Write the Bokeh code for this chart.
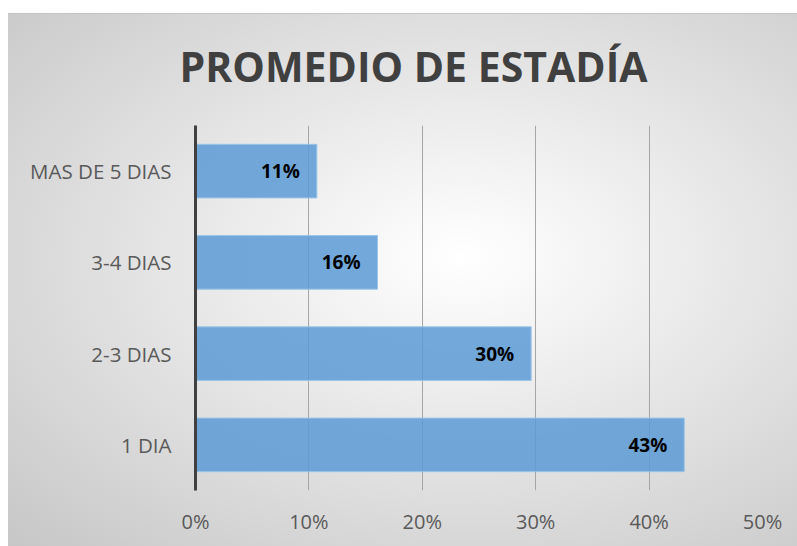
from bokeh.plotting import figure
from bokeh.models import FactorRange, NumeralTickFormatter, FixedTicker, ColumnDataSource
from bokeh.core.properties import value
from bokeh.embed import file_html
from bokeh.resources import INLINE

categories = ["1 DIA", "2-3 DIAS", "3-4 DIAS", "MAS DE 5 DIAS"]
shares = [0.431, 0.296, 0.1605, 0.107]
x_ticks = [0.0, 0.1, 0.2, 0.3, 0.4, 0.5]
title_text = "PROMEDIO DE ESTADÍA"

labels = [f"{round(v * 100):.0f}%" for v in shares]
src = ColumnDataSource(dict(cat=categories, val=shares, lab=labels))

p = figure(
    width=797, height=546,
    y_range=FactorRange(factors=categories, range_padding=0),
    x_range=(0, 0.5),
    output_backend="svg", toolbar_location=None,
    min_border_left=195, min_border_right=35, min_border_top=125, min_border_bottom=53,
    title=title_text,
)

p.background_fill_alpha = 0
p.border_fill_alpha = 0
p.outline_line_color = None
p.styles = {
    "background": "linear-gradient(#ffffff,#ffffff) 0 0/100% 13px no-repeat, "
                  "linear-gradient(#ffffff,#ffffff) 0 0/8px 100% no-repeat, "
                  "linear-gradient(#c4c4c4,#c4c4c4) 8px 13px/100% 1px no-repeat, "
                  "radial-gradient(farthest-corner at 58% 47%, #ffffff 0%, #f7f7f7 15%, #c6c6c6 100%)",
}

p.title.text_font = "Open Sans"
p.title.text_font_size = "41px"
p.title.text_font_style = "bold"
p.title.text_color = "#404040"
p.title.align = "left"
p.title.offset = -16
p.title.standoff = 64

p.hbar(y="cat", right="val", left=0, height=0.587, source=src,
       fill_color="#5b9bd5", fill_alpha=0.85, line_color="#9cc3e8", line_width=1)

p.text(x="val", y="cat", text="lab", source=src, x_offset=-17,
       text_align="right", text_baseline="middle",
       text_font=value("Open Sans"), text_font_style="bold",
       text_font_size="19px", text_color="#000000")

# x axis
p.xaxis.ticker = FixedTicker(ticks=x_ticks)
p.xaxis.formatter = NumeralTickFormatter(format="0%")
p.xaxis.axis_line_color = None
p.xaxis.major_tick_line_color = None
p.xaxis.minor_tick_line_color = None
p.xaxis.major_label_text_font = "Open Sans"
p.xaxis.major_label_text_font_size = "20px"
p.xaxis.major_label_text_color = "#595959"
p.xaxis.major_label_standoff = 11
p.xaxis.axis_label = " "
p.xaxis.axis_label_text_font_size = "1px"
p.xaxis.axis_label_standoff = 5

# y axis
p.yaxis.axis_line_color = "#404040"
p.yaxis.axis_line_width = 3
p.yaxis.major_tick_line_color = None
p.yaxis.minor_tick_line_color = None
p.yaxis.major_label_text_font = "Open Sans"
p.yaxis.major_label_text_font_size = "20.5px"
p.yaxis.major_label_text_color = "#595959"
p.yaxis.major_label_standoff = 18

p.xgrid.grid_line_color = "#a6a6a6"
p.xgrid.grid_line_width = 1
p.ygrid.grid_line_color = None

open("out.html", "w").write(file_html(p, INLINE))
